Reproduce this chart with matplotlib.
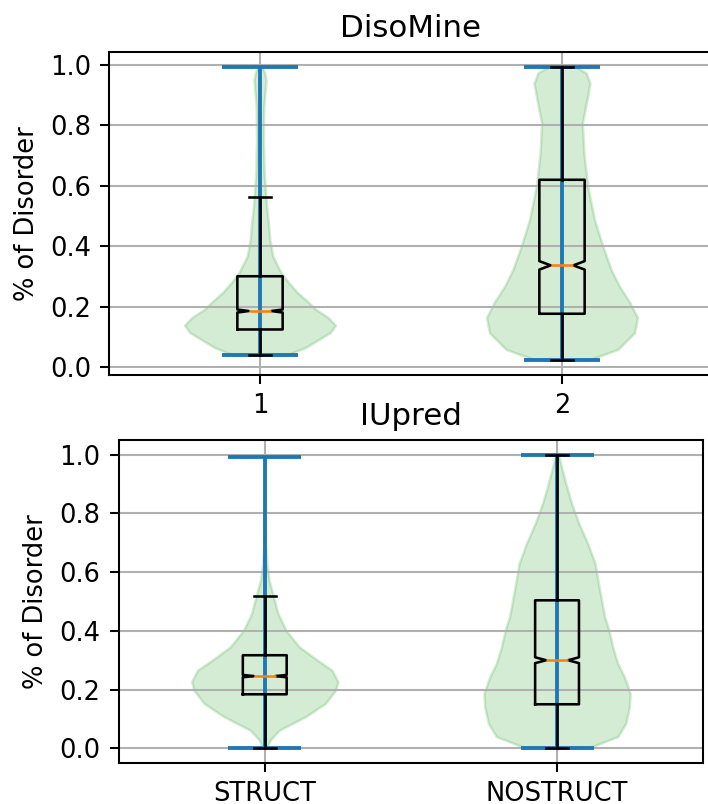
import matplotlib
matplotlib.use("Agg")
import matplotlib.pyplot as plt
import numpy as np

# values
titles = ["DisoMine", "IUpred"]
xlabels_top = ["1", "2"]
xlabels_bottom = ["STRUCT", "NOSTRUCT"]

# violin outlines: y positions and relative density
diso_struct_y = [0.040, 0.065, 0.092, 0.115, 0.139, 0.165, 0.191, 0.220, 0.246, 0.280,
                 0.312, 0.367, 0.422, 0.480, 0.532, 0.642, 0.752, 0.862, 0.920, 0.950,
                 0.975, 0.992]
diso_struct_d = [0.35, 0.60, 0.78, 0.93, 1.00, 0.90, 0.74, 0.62, 0.50, 0.38,
                 0.28, 0.17, 0.13, 0.11, 0.087, 0.055, 0.045, 0.05, 0.07, 0.08,
                 0.06, 0.03]
diso_nostruct_y = [0.023, 0.059, 0.114, 0.164, 0.213, 0.268, 0.323, 0.400, 0.488, 0.598,
                   0.708, 0.808, 0.884, 0.939, 0.973, 0.994]
diso_nostruct_d = [0.34, 0.74, 0.96, 1.00, 0.90, 0.76, 0.65, 0.54, 0.43, 0.34,
                   0.29, 0.27, 0.33, 0.37, 0.32, 0.18]
iu_struct_y = [0.0, 0.030, 0.062, 0.108, 0.153, 0.198, 0.227, 0.266, 0.300, 0.346,
               0.402, 0.459, 0.516, 0.572, 0.629, 0.686, 0.750, 0.850, 0.992]
iu_struct_d = [0.02, 0.08, 0.20, 0.56, 0.83, 0.97, 1.00, 0.92, 0.72, 0.47,
               0.29, 0.18, 0.12, 0.06, 0.03, 0.012, 0.006, 0.004, 0.003]
iu_nostruct_y = [0.0, 0.040, 0.085, 0.141, 0.187, 0.244, 0.289, 0.346, 0.402, 0.448,
                 0.516, 0.584, 0.629, 0.697, 0.765, 0.833, 0.901, 0.969, 1.0]
iu_nostruct_d = [0.42, 0.83, 0.94, 0.99, 1.00, 0.92, 0.83, 0.76, 0.71, 0.65,
                 0.60, 0.55, 0.52, 0.42, 0.30, 0.20, 0.12, 0.05, 0.02]

# box stats: whislo, q1, med, q3, whishi, notch half-size
diso_boxes = [[0.040, 0.125, 0.186, 0.301, 0.563, 0.005],
              [0.023, 0.177, 0.337, 0.620, 0.994, 0.014]]
iu_boxes = [[0.0, 0.184, 0.246, 0.317, 0.519, 0.004],
            [0.0, 0.150, 0.300, 0.504, 1.0, 0.010]]


def vp(ys, ds):
    ys = np.asarray(ys, float)
    return dict(coords=ys, vals=np.asarray(ds, float), mean=float(np.median(ys)),
                median=float(np.median(ys)), min=ys.min(), max=ys.max())


def bx(row):
    lo, q1, med, q3, hi, ci = row
    return dict(whislo=lo, q1=q1, med=med, q3=q3, whishi=hi,
                cilo=med - ci, cihi=med + ci, fliers=[])


def panel(ax, violins, boxes, title, labels):
    parts = ax.violin([vp(*v) for v in violins], positions=[1, 2], widths=0.5,
                      showextrema=True)
    for b in parts["bodies"]:
        b.set_facecolor("C2")
        b.set_edgecolor("C2")
        b.set_alpha(0.2)
    ax.bxp([bx(r) for r in boxes], positions=[1, 2], widths=0.15,
           shownotches=True, showfliers=False)
    ax.set_xlim(0.5, 2.5)
    ax.set_xticks([1, 2])
    ax.set_xticklabels(labels)
    ax.set_title(title)
    ax.set_ylabel("% of Disorder")
    ax.grid(True)


fig = plt.figure(figsize=(708 / 185, 804 / 185), dpi=185)
ax1 = fig.add_axes([109 / 708, 1 - 375 / 804, 604 / 708, 323 / 804])
ax2 = fig.add_axes([118.6 / 708, 1 - 763 / 804, 584.6 / 708, 323 / 804])

panel(ax1, [(diso_struct_y, diso_struct_d), (diso_nostruct_y, diso_nostruct_d)],
      diso_boxes, titles[0], xlabels_top)
panel(ax2, [(iu_struct_y, iu_struct_d), (iu_nostruct_y, iu_nostruct_d)],
      iu_boxes, titles[1], xlabels_bottom)

fig.savefig("out.png", dpi=185)
